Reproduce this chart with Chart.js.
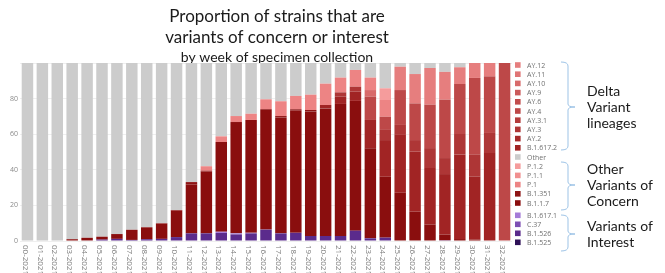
<!DOCTYPE html>
<html>
<head>
<meta charset="utf-8">
<script src="https://cdn.jsdelivr.net/npm/chart.js@4.4.0/dist/chart.umd.min.js"></script>
<style>
  html, body { margin: 0; padding: 0; background: #fff; }
  #wrap { width: 665px; height: 273px; position: relative; }
</style>
</head>
<body>
<div id="wrap"><canvas id="chart"></canvas></div>
<script>
// --- Data (percent of specimens per week) ---
const weeks = ['00-2021','01-2021','02-2021','03-2021','04-2021','05-2021','06-2021','07-2021','08-2021','09-2021',
    '10-2021','11-2021','12-2021','13-2021','14-2021','15-2021','16-2021','17-2021','18-2021','19-2021',
    '20-2021','21-2021','22-2021','23-2021','24-2021','25-2021','26-2021','27-2021','28-2021','29-2021',
    '30-2021','31-2021','32-2021'];
const yTicks = [0, 20, 40, 60, 80];

const b1525   = [0,0,0,0,0,0,0,0,0,0, 0,0,0,0,0,0,0,0,0,0, 0,0,0,0,0,0,0,0,0,0, 0,0,0];
const b1526   = [0,0,0,0,0.3,0.8,1.2,0.6,1.0,1.2, 2.2,4.3,4.3,4.5,3.7,4.3,6.4,4.3,4.6,2.8, 2.8,2.8,5.8,1.5,1.9,0,0,0,0.4,0, 0,0,0];
const c37     = [0,0,0,0,0,0,0,0,0,0, 0,0,0,0,0,0,0,0,0,0, 0,0,0,0,0,0,0,0,0,0, 0,0,0];
const b16171  = [0,0,0,0,0,0,0,0,0,0, 0,0,0,0.7,0.6,0.3,0,0,0,0, 0,0,0,0,0,0,0,0,0,0, 0,0,0];
const b117    = [0,0,0,1.0,1.5,1.6,2.7,5.7,6.7,8.6, 15.0,27.5,34.7,50.4,62.0,63.4,67.6,65.0,68.6,70.0, 71.7,74.2,72.9,50.6,34.2,27.1,16.5,9.2,3.2,1.1, 0.8,0,0];
const b1351   = [0,0,0,0,0,0,0,0,0,0.2, 0.2,1.3,0.5,0,0.6,0,0,0.9,0.8,0.8, 0,0,0,0,0,0,0,0,0,0, 0,0,0];
const b16172  = [0,0,0,0,0,0,0,0,0,0, 0,0,0,0,0,0,0,0,0,0, 1.9,4.1,5.2,15.9,20.6,32.5,33.7,31.8,34.0,47.4, 35.5,49.4,0];
const ay2     = [0,0,0,0,0,0,0,0,0,0, 0,0,0,0,0,0,0,0,0,0, 0,0,0,0,0,0,0,0,0,0, 0,0,0];
const ay3     = [0,0,0,0,0,0,0,0,0,0, 0,0,0,0,0,0,0,0,0,0, 0,2.4,2.8,0,5.7,5.6,6.5,11.2,9.0,11.6, 12.2,11.3,0];
const ay31    = [0,0,0,0,0,0,0,0,0,0, 0,0,0,0,0,0,0,0,0,0, 0,0,0,0,0,0,0,0,0,0, 0,0,0];
const ay4     = [0,0,0,0,0,0,0,0,0,0, 0,0,0,0,0,0,0,0,0,0, 0,0,0,13.1,7.4,19.6,20.6,24.4,32.8,28.1, 43.1,31.8,100];
const ay6     = [0,0,0,0,0,0,0,0,0,0, 0,0,0,0,0,0,0,0,0,0, 0,0,0,0,0,0,0,0,0,0, 0,0,0];
const ay9     = [0,0,0,0,0,0,0,0,0,0, 0,0,0,0,0,0,0,0,0,0, 0,0,0,0,0,0,0,0,0,0, 0,0,0];
const ay10    = [0,0,0,0,0,0,0,0,0,0, 0,0,0,0,0,0,0,0,0,0, 0,0,0,3.7,0,0,0,0,0,0, 0,0,0];
const ay11    = [0,0,0,0,0,0,0,0,0,0, 0,0,0,0,0,0,0,0,0,0, 0,0,0,0,0,0,0,0,0,0, 0,0,0];
const ay12    = [0,0,0,0,0,0,0,0,0,0, 0,0,0,0,0,0,0,0,0,0, 0,0,0,0,0,13.1,16.5,20.6,15.6,9.4, 8.4,7.5,0];
const p1      = [0,0,0,0,0,0,0,0,0,0, 0,0,2.5,3.2,3.3,3.5,5.6,8.3,7.5,8.6, 12.0,8.3,9.4,7.0,9.4,0,0,0,0,0, 0,0,0];
const p11     = [0,0,0,0,0,0,0,0,0,0, 0,0,0,0,0,0,0,0,0,0, 0,0,0,0,0,0,0,0,0,0, 0,0,0];
const p12     = [0,0,0,0,0,0,0,0,0,0, 0,0,0,0,0,0,0,0,0,0, 0,0,0,0,6.6,0,0,0,0,0, 0,0,0];
const other   = [100,100,100,99.0,98.2,97.6,96.1,93.7,92.3,90.0, 82.6,66.9,58.0,41.2,29.8,28.5,20.4,21.5,18.5,17.8, 11.6,8.2,3.9,8.2,14.2,2.1,6.2,2.8,5.0,2.4, 0,0,0];

// stack order, bottom to top
const stackOrder = [
    ['B.1.525', b1525, '#2e1057'],
    ['B.1.526', b1526, '#5b2b8c'],
    ['C.37', c37, '#7e4fb3'],
    ['B.1.617.1', b16171, '#a57bd8'],
    ['B.1.1.7', b117, '#8a0e0e'],
    ['B.1.351', b1351, '#8e1414'],
    ['B.1.617.2', b16172, '#a12424'],
    ['AY.2', ay2, '#a62a2a'],
    ['AY.3', ay3, '#ae3636'],
    ['AY.3.1', ay31, '#b43c3c'],
    ['AY.4', ay4, '#bd4848'],
    ['AY.6', ay6, '#c24d4d'],
    ['AY.9', ay9, '#cb5a5a'],
    ['AY.10', ay10, '#d86a6a'],
    ['AY.11', ay11, '#e07575'],
    ['AY.12', ay12, '#e67e7e'],
    ['P.1', p1, '#ed8484'],
    ['P.1.1', p11, '#f18f8f'],
    ['P.1.2', p12, '#f59c9c'],
    ['Other', other, '#cccccc']
];

// legend order, top to bottom (gap before the VOI group)
const legendOrder = ['AY.12','AY.11','AY.10','AY.9','AY.6','AY.4','AY.3.1','AY.3','AY.2','B.1.617.2',
    'Other','P.1.2','P.1.1','P.1','B.1.351','B.1.1.7','B.1.617.1','C.37','B.1.526','B.1.525'];

const groups = [
    { lines: ['Delta', 'Variant', 'lineages'], top: 62, bottom: 150, mid: 107 },
    { lines: ['Other', 'Variants of', 'Concern'], top: 162, bottom: 210, mid: 185 },
    { lines: ['Variants of', 'Interest'], top: 215, bottom: 251, mid: 234 }
];

const colorOf = {};
stackOrder.forEach(s => colorOf[s[0]] = s[2]);

// --- Title drawn under the bars, clipped at plot top ---
const titlePlugin = {
    id: 'titleUnder',
    beforeDatasetsDraw: (chart) => {
        const { ctx, chartArea } = chart;
        ctx.save();
        ctx.beginPath();
        ctx.rect(0, 0, chart.width, chartArea.top);
        ctx.clip();
        ctx.fillStyle = '#1a1a1a';
        ctx.textAlign = 'center';
        ctx.textBaseline = 'middle';
        ctx.font = '17px Lato';
        ctx.fillText('Proportion of strains that are', 277, 17);
        ctx.fillText('variants of concern or interest', 277, 38);
        ctx.font = '14px Lato';
        ctx.fillText('by week of specimen collection', 277, 57.5);
        ctx.restore();
    }
};

// --- Rotated week labels, legend, brackets ---
const extrasPlugin = {
    id: 'extras',
    afterDraw: (chart) => {
        const { ctx } = chart;
        const xs = chart.scales.x;
        ctx.save();

        ctx.font = '8px "Open Sans"';
        ctx.fillStyle = '#7a7a7a';
        ctx.textAlign = 'left';
        ctx.textBaseline = 'middle';
        weeks.forEach((w, i) => {
            ctx.save();
            ctx.translate(xs.getPixelForValue(i) - 2.5, 245);
            ctx.rotate(Math.PI / 2);
            ctx.fillText(w, 0, 0);
            ctx.restore();
        });

        // legend
        ctx.font = '7px "Open Sans"';
        legendOrder.forEach((name, i) => {
            let y = 65 + i * 9.2;
            if (i >= 16) y = 215.3 + (i - 16) * 9;
            ctx.fillStyle = colorOf[name];
            ctx.fillRect(515, y - 2.8, 5.6, 5.6);
            ctx.fillStyle = '#707070';
            ctx.fillText(name, 527, y + 0.5);
        });

        // brackets and group names
        ctx.strokeStyle = '#9dc3e6';
        ctx.lineWidth = 1;
        groups.forEach(g => {
            const x0 = 561, x1 = 568, x2 = 575;
            ctx.beginPath();
            ctx.moveTo(x0, g.top);
            ctx.quadraticCurveTo(x1, g.top, x1, g.top + 4);
            ctx.lineTo(x1, g.mid - 3);
            ctx.quadraticCurveTo(x1, g.mid, x2, g.mid);
            ctx.quadraticCurveTo(x1, g.mid, x1, g.mid + 3);
            ctx.lineTo(x1, g.bottom - 4);
            ctx.quadraticCurveTo(x1, g.bottom, x0, g.bottom);
            ctx.stroke();

            ctx.fillStyle = '#1a1a1a';
            ctx.font = '14px Lato';
            const n = g.lines.length;
            g.lines.forEach((t, k) => {
                ctx.fillText(t, 587, g.mid + (k - (n - 1) / 2) * 16);
            });
        });
        ctx.restore();
    }
};

new Chart(document.getElementById('chart'), {
    type: 'bar',
    data: {
        labels: weeks,
        datasets: stackOrder.map(s => ({
            label: s[0],
            data: s[1],
            backgroundColor: s[2],
            borderWidth: 0,
            barPercentage: 0.77,
            categoryPercentage: 1.0
        }))
    },
    options: {
        responsive: true,
        maintainAspectRatio: false,
        animation: false,
        layout: { padding: { top: 63, bottom: 32, right: 153, left: 0 } },
        plugins: { legend: { display: false }, tooltip: { enabled: false } },
        scales: {
            x: { stacked: true, display: false },
            y: {
                stacked: true, min: 0, max: 100,
                border: { display: false },
                grid: { color: '#efefef', drawTicks: false },
                afterFit: (s) => { s.width = 20; },
                ticks: {
                    stepSize: 20, padding: 2, color: '#8a8a8a',
                    font: { family: 'Open Sans', size: 7 },
                    callback: (v) => yTicks.includes(v) ? v : ''
                }
            }
        }
    },
    plugins: [titlePlugin, extrasPlugin]
});
</script>
</body>
</html>
